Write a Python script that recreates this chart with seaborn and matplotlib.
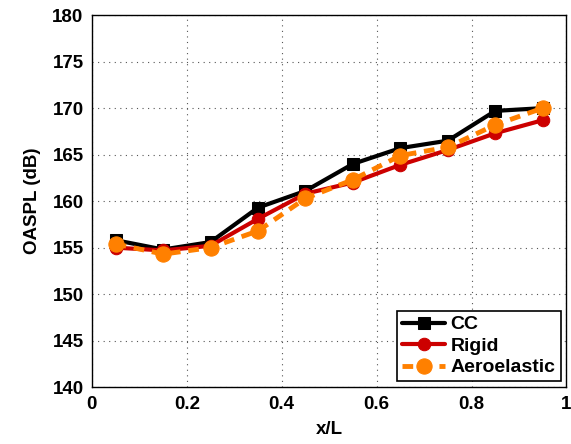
import matplotlib
matplotlib.use("Agg")
import matplotlib.pyplot as plt
import seaborn as sns
import pandas as pd

x = [0.05, 0.15, 0.25, 0.35, 0.45, 0.55, 0.65, 0.75, 0.85, 0.95]
cc = [155.8, 154.8, 155.6, 159.3, 161.1, 164.0, 165.7, 166.5, 169.7, 170.0]
rigid = [155.0, 154.7, 155.2, 158.1, 160.8, 162.0, 163.9, 165.5, 167.3, 168.7]
aero = [155.4, 154.3, 155.0, 156.8, 160.3, 162.3, 164.9, 165.8, 168.2, 170.0]
xticks = [0, 0.2, 0.4, 0.6, 0.8, 1]
xticklabels = ["0", "0.2", "0.4", "0.6", "0.8", "1"]
yticks = [140, 145, 150, 155, 160, 165, 170, 175, 180]

sns.set_style("white")
plt.rcParams['font.family'] = ['Liberation Sans', 'DejaVu Sans']
plt.rcParams['font.weight'] = 'bold'
plt.rcParams['text.color'] = 'black'
plt.rcParams['axes.labelcolor'] = 'black'

fig = plt.figure(figsize=(5.71, 4.44), dpi=100)
ax = fig.add_axes([0.161, 0.128, 0.831, 0.838])

df_cc = pd.DataFrame({"x": x, "y": cc})
df_r = pd.DataFrame({"x": x, "y": rigid})
df_a = pd.DataFrame({"x": x, "y": aero})

sns.lineplot(data=df_cc, x="x", y="y", ax=ax, color="black", lw=3,
             marker="s", markersize=8, markeredgecolor="black", label="CC")
sns.lineplot(data=df_r, x="x", y="y", ax=ax, color="#cc0000", lw=3,
             marker="o", markersize=9, markeredgecolor="#cc0000", label="Rigid")
sns.lineplot(data=df_a, x="x", y="y", ax=ax, color="#ff8000", lw=3.5,
             marker="o", markersize=11, markeredgecolor="#ff8000",
             linestyle=(0, (2.2, 1.6)), label="Aeroelastic")

ax.set_xlim(0, 1)
ax.set_ylim(140, 180)
ax.set_xticks(xticks)
ax.set_xticklabels(xticklabels)
ax.set_yticks(yticks)
ax.tick_params(direction="in", length=4, width=1, labelsize=13.5, colors="black", pad=6)
for lab in ax.get_xticklabels() + ax.get_yticklabels():
    lab.set_fontweight("bold")
ax.set_xlabel("x/L", fontsize=13.5, fontweight="bold", labelpad=6, color="black")
ax.set_ylabel("OASPL (dB)", fontsize=13.5, fontweight="bold", labelpad=8, color="black")
ax.grid(True, linestyle=(0, (1, 4)), color="#555555", linewidth=0.8)
for s in ax.spines.values():
    s.set_color("black")
    s.set_linewidth(1)

leg = ax.legend(loc="lower right", fontsize=14, frameon=True, fancybox=False,
                edgecolor="black", framealpha=1, borderpad=0.25, labelspacing=0.2,
                handlelength=2.2, handletextpad=0.3, borderaxespad=0.3)
leg.get_frame().set_linewidth(1.2)
for t in leg.get_texts():
    t.set_fontweight("bold")
    t.set_color("black")

fig.savefig("out.png", dpi=100)
